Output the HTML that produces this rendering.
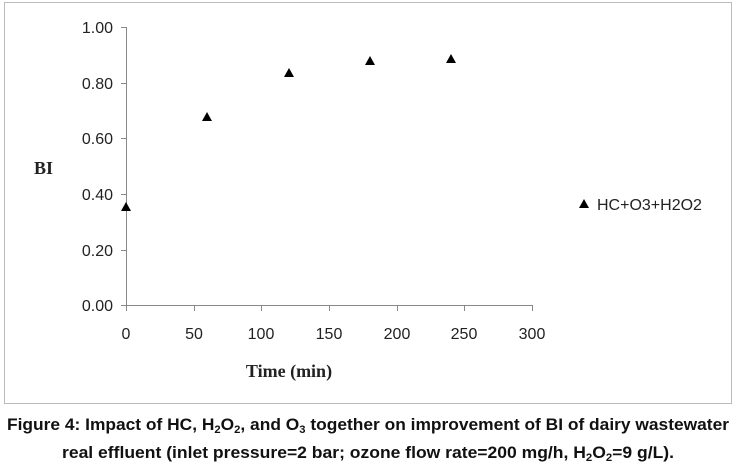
<!DOCTYPE html>
<html><head><meta charset="utf-8"><style>body{margin:0;background:#fff}svg{display:block}</style></head><body>
<svg width="737" height="472" xmlns="http://www.w3.org/2000/svg" font-family="Liberation Sans, sans-serif">
<rect x="4.5" y="2.5" width="727" height="401" fill="#fff" stroke="#bbb"/>
<g stroke="#888" stroke-width="1">
<line x1="126.5" y1="27" x2="126.5" y2="305"/>
<line x1="126" y1="305.5" x2="533" y2="305.5"/>
<line x1="121" y1="27.5" x2="126" y2="27.5"/>
<line x1="121" y1="83.5" x2="126" y2="83.5"/>
<line x1="121" y1="138.5" x2="126" y2="138.5"/>
<line x1="121" y1="194.5" x2="126" y2="194.5"/>
<line x1="121" y1="250.5" x2="126" y2="250.5"/>
<line x1="121" y1="305.5" x2="126" y2="305.5"/>
<line x1="126.5" y1="305" x2="126.5" y2="311"/>
<line x1="194.5" y1="305" x2="194.5" y2="311"/>
<line x1="261.5" y1="305" x2="261.5" y2="311"/>
<line x1="329.5" y1="305" x2="329.5" y2="311"/>
<line x1="397.5" y1="305" x2="397.5" y2="311"/>
<line x1="464.5" y1="305" x2="464.5" y2="311"/>
<line x1="532.5" y1="305" x2="532.5" y2="311"/>
</g>
<g font-size="16" fill="#222" text-anchor="end">
<text x="113" y="33">1.00</text><text x="113" y="89">0.80</text><text x="113" y="144">0.60</text>
<text x="113" y="200">0.40</text><text x="113" y="256">0.20</text><text x="113" y="311">0.00</text>
</g>
<g font-size="16" fill="#222" text-anchor="middle">
<text x="126" y="339">0</text><text x="194" y="339">50</text><text x="261" y="339">100</text>
<text x="329" y="339">150</text><text x="397" y="339">200</text><text x="464" y="339">250</text><text x="532" y="339">300</text>
</g>
<text x="289" y="377" font-family="Liberation Serif, serif" font-weight="bold" font-size="18" text-anchor="middle" fill="#222">Time (min)</text>
<text x="34" y="174" font-family="Liberation Serif, serif" font-weight="bold" font-size="18" fill="#222">BI</text>
<g fill="#000">
<polygon points="126,202 121,211 131,211"/>
<polygon points="207,112 202,121 212,121"/>
<polygon points="289,68 284,77 294,77"/>
<polygon points="370,56 365,65 375,65"/>
<polygon points="451,54 446,63 456,63"/>
<polygon points="584,199 579,208 589,208"/>
</g>
<text x="597" y="210" font-size="16" fill="#222">HC+O3+H2O2</text>
<g font-weight="bold" font-size="17" fill="#111" text-anchor="middle">
<text x="368" y="430" textLength="722" lengthAdjust="spacingAndGlyphs">Figure 4: Impact of HC, H<tspan font-size="11" dy="3">2</tspan><tspan dy="-3">O</tspan><tspan font-size="11" dy="3">2</tspan><tspan dy="-3">, and O</tspan><tspan font-size="11" dy="3">3</tspan><tspan dy="-3"> together on improvement of BI of dairy wastewater</tspan></text>
<text x="368" y="458" textLength="612" lengthAdjust="spacingAndGlyphs">real effluent (inlet pressure=2 bar; ozone flow rate=200 mg/h, H<tspan font-size="11" dy="3">2</tspan><tspan dy="-3">O</tspan><tspan font-size="11" dy="3">2</tspan><tspan dy="-3">=9 g/L).</tspan></text>
</g>
</svg>
</body></html>
